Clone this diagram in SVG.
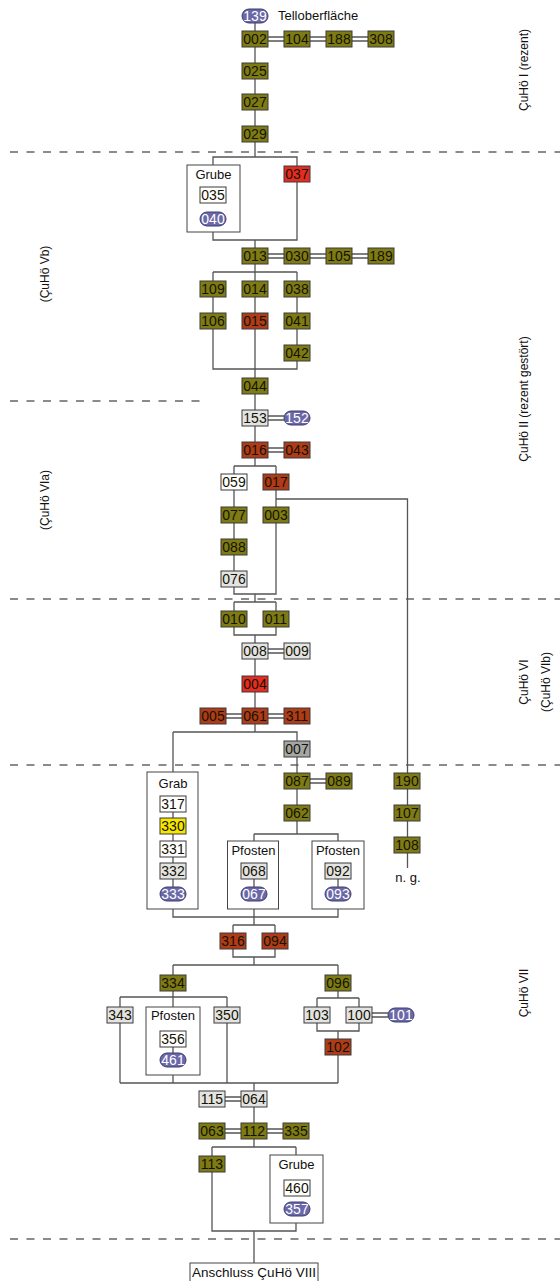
<svg xmlns="http://www.w3.org/2000/svg" width="560" height="1281" viewBox="0 0 560 1281">
<style>
.bg{fill:#fff}
.b{stroke:#3a3a3a;stroke-width:1}
.o{fill:#7f7b14}
.r{fill:#e62b20}
.rb{fill:#b03b18}
.lg{fill:#e3e3e3}
.w{fill:#fff}
.g{fill:#a6a6a6}
.y{fill:#f6e600}
.e{fill:#6b68a8;stroke:#3e3c70;stroke-width:1}
.t{font-family:"Liberation Sans",Arial,sans-serif;font-size:14px;text-anchor:middle;fill:#141400}
.te{font-family:"Liberation Sans",Arial,sans-serif;font-size:14px;text-anchor:middle;fill:#fff}
.lb{font-family:"Liberation Sans",Arial,sans-serif;font-size:13px;text-anchor:middle;fill:#111}
.ph{font-family:"Liberation Sans",Arial,sans-serif;font-size:12px;text-anchor:middle;fill:#111}
.c{fill:#fff;stroke:#444;stroke-width:1}
.ln{fill:none;stroke:#555;stroke-width:1.3}
.dl{fill:none;stroke:#666;stroke-width:1.3;stroke-dasharray:8 8.5}
</style>
<rect class="bg" x="0" y="0" width="560" height="1281"/>
<g id="phases">
<path class="dl" d="M10 152H560M10 401H205M10 599H560M10 765H560M10 1239H560"/>
<text class="ph" transform="translate(528,70) rotate(-90)">ÇuHö I (rezent)</text>
<text class="ph" transform="translate(528,399) rotate(-90)">ÇuHö II (rezent gestört)</text>
<text class="ph" transform="translate(528,682) rotate(-90)">ÇuHö VI</text>
<text class="ph" transform="translate(550,682) rotate(-90)">(ÇuHö VIb)</text>
<text class="ph" transform="translate(528,993) rotate(-90)">ÇuHö VII</text>
<text class="ph" transform="translate(49,274) rotate(-90)">(ÇuHö Vb)</text>
<text class="ph" transform="translate(49,500) rotate(-90)">(ÇuHö VIa)</text>
</g>
<g id="containers">
<g id="grube1"><rect class="c" x="187" y="165" width="53" height="67"/><text class="lb" x="213.5" y="179">Grube</text></g>
<g id="grab"><rect class="c" x="147" y="772" width="51" height="137"/><text class="lb" x="173" y="788">Grab</text></g>
<g id="pfosten1"><rect class="c" x="227.5" y="841" width="51" height="68"/><text class="lb" x="253.5" y="855">Pfosten</text></g>
<g id="pfosten2"><rect class="c" x="312" y="841" width="52" height="68"/><text class="lb" x="338" y="855">Pfosten</text></g>
<g id="pfosten3"><rect class="c" x="146" y="1007" width="54" height="68"/><text class="lb" x="173" y="1020">Pfosten</text></g>
<g id="grube2"><rect class="c" x="270" y="1155" width="53" height="68"/><text class="lb" x="296.5" y="1169">Grube</text></g>
</g>
<g id="connectors">
<path class="ln" d="M255 16V157M213 165V157H297V240H213V232M255 240V272M213 272H297M213 272V369H297V272M255 272V466"/>
<path class="ln" d="M234 466H276M234 466V594H276V466M255 594V602M234 602H276M234 602V635H276V602M255 635V732"/>
<path class="ln" d="M276 499H407.5V868"/>
<path class="ln" d="M173 732H297V834M173 732V772M173 804V894"/>
<path class="ln" d="M254 834H338V841M254 834V841M254 871V894M338 871V894"/>
<path class="ln" d="M173 909V917H338V909M254 909V925M233 925H275M233 925V957H275V925M254 957V965M173 965H338"/>
<path class="ln" d="M173 965V1007M120 997H227M120 997V1083M227 997V1083M173 1038V1060M173 1075V1083M120 1083H338"/>
<path class="ln" d="M338 965V998M317 998H359M317 998V1031H359V998M338 1031V1083"/>
<path class="ln" d="M254 1083V1147M212 1147H296M212 1147V1231H296V1223M296 1147V1155M254 1231V1263"/>
<path class="ln" d="M268 37H284M268 41H284M310 37H326M310 41H326M352 37H368M352 41H368"/>
<path class="ln" d="M268 254H284M268 258H284M310 254H326M310 258H326M352 254H368M352 258H368"/>
<path class="ln" d="M268 416H284M268 420H284M268 448H284M268 452H284M268 649H284M268 653H284"/>
<path class="ln" d="M226 714H242M226 718H242M268 714H284M268 718H284M310 779H326M310 783H326"/>
<path class="ln" d="M372 1013H388M372 1017H388M225 1097H241M225 1101H241M225 1129H241M225 1133H241M267 1129H283M267 1133H283"/>
</g>
<g id="n139"><rect class="e" x="242" y="9" width="26" height="14" rx="7"/><text class="te" x="255" y="21">139</text></g>
<text class="lb" x="278" y="20" style="text-anchor:start">Telloberfläche</text>
<g id="n002"><rect class="b o" x="242" y="31" width="26" height="16"/><text class="t" x="255" y="44">002</text></g>
<g id="n104"><rect class="b o" x="284" y="31" width="26" height="16"/><text class="t" x="297" y="44">104</text></g>
<g id="n188"><rect class="b o" x="326" y="31" width="26" height="16"/><text class="t" x="339" y="44">188</text></g>
<g id="n308"><rect class="b o" x="368" y="31" width="26" height="16"/><text class="t" x="381" y="44">308</text></g>
<g id="n025"><rect class="b o" x="242" y="63" width="26" height="16"/><text class="t" x="255" y="76">025</text></g>
<g id="n027"><rect class="b o" x="242" y="94" width="26" height="16"/><text class="t" x="255" y="107">027</text></g>
<g id="n029"><rect class="b o" x="242" y="126" width="26" height="16"/><text class="t" x="255" y="139">029</text></g>
<g id="n035"><rect class="b w" x="200" y="187" width="26" height="16"/><text class="t" x="213" y="200">035</text></g>
<g id="n040"><rect class="e" x="200" y="212" width="26" height="14" rx="7"/><text class="te" x="213" y="224">040</text></g>
<g id="n037"><rect class="b r" x="284" y="166" width="26" height="16"/><text class="t" x="297" y="179">037</text></g>
<g id="n013"><rect class="b o" x="242" y="248" width="26" height="16"/><text class="t" x="255" y="261">013</text></g>
<g id="n030"><rect class="b o" x="284" y="248" width="26" height="16"/><text class="t" x="297" y="261">030</text></g>
<g id="n105"><rect class="b o" x="326" y="248" width="26" height="16"/><text class="t" x="339" y="261">105</text></g>
<g id="n189"><rect class="b o" x="368" y="248" width="26" height="16"/><text class="t" x="381" y="261">189</text></g>
<g id="n109"><rect class="b o" x="200" y="281" width="26" height="16"/><text class="t" x="213" y="294">109</text></g>
<g id="n014"><rect class="b o" x="242" y="281" width="26" height="16"/><text class="t" x="255" y="294">014</text></g>
<g id="n038"><rect class="b o" x="284" y="281" width="26" height="16"/><text class="t" x="297" y="294">038</text></g>
<g id="n106"><rect class="b o" x="200" y="313" width="26" height="16"/><text class="t" x="213" y="326">106</text></g>
<g id="n015"><rect class="b rb" x="242" y="313" width="26" height="16"/><text class="t" x="255" y="326">015</text></g>
<g id="n041"><rect class="b o" x="284" y="313" width="26" height="16"/><text class="t" x="297" y="326">041</text></g>
<g id="n042"><rect class="b o" x="284" y="345" width="26" height="16"/><text class="t" x="297" y="358">042</text></g>
<g id="n044"><rect class="b o" x="242" y="378" width="26" height="16"/><text class="t" x="255" y="391">044</text></g>
<g id="n153"><rect class="b lg" x="242" y="410" width="26" height="16"/><text class="t" x="255" y="423">153</text></g>
<g id="n152"><rect class="e" x="284" y="411" width="26" height="14" rx="7"/><text class="te" x="297" y="423">152</text></g>
<g id="n016"><rect class="b rb" x="242" y="442" width="26" height="16"/><text class="t" x="255" y="455">016</text></g>
<g id="n043"><rect class="b rb" x="284" y="442" width="26" height="16"/><text class="t" x="297" y="455">043</text></g>
<g id="n059"><rect class="b w" x="221" y="474" width="26" height="16"/><text class="t" x="234" y="487">059</text></g>
<g id="n017"><rect class="b rb" x="263" y="474" width="26" height="16"/><text class="t" x="276" y="487">017</text></g>
<g id="n077"><rect class="b o" x="221" y="507" width="26" height="16"/><text class="t" x="234" y="520">077</text></g>
<g id="n003"><rect class="b o" x="263" y="507" width="26" height="16"/><text class="t" x="276" y="520">003</text></g>
<g id="n088"><rect class="b o" x="221" y="539" width="26" height="16"/><text class="t" x="234" y="552">088</text></g>
<g id="n076"><rect class="b lg" x="221" y="571" width="26" height="16"/><text class="t" x="234" y="584">076</text></g>
<g id="n010"><rect class="b o" x="221" y="611" width="26" height="16"/><text class="t" x="234" y="624">010</text></g>
<g id="n011"><rect class="b o" x="263" y="611" width="26" height="16"/><text class="t" x="276" y="624">011</text></g>
<g id="n008"><rect class="b lg" x="242" y="643" width="26" height="16"/><text class="t" x="255" y="656">008</text></g>
<g id="n009"><rect class="b lg" x="284" y="643" width="26" height="16"/><text class="t" x="297" y="656">009</text></g>
<g id="n004"><rect class="b r" x="242" y="676" width="26" height="16"/><text class="t" x="255" y="689">004</text></g>
<g id="n005"><rect class="b rb" x="200" y="708" width="26" height="16"/><text class="t" x="213" y="721">005</text></g>
<g id="n061"><rect class="b rb" x="242" y="708" width="26" height="16"/><text class="t" x="255" y="721">061</text></g>
<g id="n311"><rect class="b rb" x="284" y="708" width="26" height="16"/><text class="t" x="297" y="721">311</text></g>
<g id="n007"><rect class="b g" x="284" y="741" width="26" height="16"/><text class="t" x="297" y="754">007</text></g>
<g id="n317"><rect class="b w" x="160" y="796" width="26" height="16"/><text class="t" x="173" y="809">317</text></g>
<g id="n330"><rect class="b y" x="160" y="818" width="26" height="16"/><text class="t" x="173" y="831">330</text></g>
<g id="n331"><rect class="b w" x="160" y="841" width="26" height="16"/><text class="t" x="173" y="854">331</text></g>
<g id="n332"><rect class="b lg" x="160" y="863" width="26" height="16"/><text class="t" x="173" y="876">332</text></g>
<g id="n333"><rect class="e" x="160" y="887" width="26" height="14" rx="7"/><text class="te" x="173" y="899">333</text></g>
<g id="n087"><rect class="b o" x="284" y="773" width="26" height="16"/><text class="t" x="297" y="786">087</text></g>
<g id="n089"><rect class="b o" x="326" y="773" width="26" height="16"/><text class="t" x="339" y="786">089</text></g>
<g id="n062"><rect class="b o" x="284" y="805" width="26" height="16"/><text class="t" x="297" y="818">062</text></g>
<g id="n068"><rect class="b lg" x="241" y="863" width="26" height="16"/><text class="t" x="254" y="876">068</text></g>
<g id="n067"><rect class="e" x="241" y="887" width="26" height="14" rx="7"/><text class="te" x="254" y="899">067</text></g>
<g id="n092"><rect class="b lg" x="325" y="863" width="26" height="16"/><text class="t" x="338" y="876">092</text></g>
<g id="n093"><rect class="e" x="325" y="887" width="26" height="14" rx="7"/><text class="te" x="338" y="899">093</text></g>
<g id="n190"><rect class="b o" x="394" y="773" width="26" height="16"/><text class="t" x="407" y="786">190</text></g>
<g id="n107"><rect class="b o" x="394" y="805" width="26" height="16"/><text class="t" x="407" y="818">107</text></g>
<g id="n108"><rect class="b o" x="394" y="837" width="26" height="16"/><text class="t" x="407" y="850">108</text></g>
<text class="lb" x="408" y="882">n. g.</text>
<g id="n316"><rect class="b rb" x="220" y="933" width="26" height="16"/><text class="t" x="233" y="946">316</text></g>
<g id="n094"><rect class="b rb" x="262" y="933" width="26" height="16"/><text class="t" x="275" y="946">094</text></g>
<g id="n334"><rect class="b o" x="160" y="975" width="26" height="16"/><text class="t" x="173" y="988">334</text></g>
<g id="n096"><rect class="b o" x="325" y="975" width="26" height="16"/><text class="t" x="338" y="988">096</text></g>
<g id="n343"><rect class="b lg" x="107" y="1007" width="26" height="16"/><text class="t" x="120" y="1020">343</text></g>
<g id="n350"><rect class="b lg" x="214" y="1007" width="26" height="16"/><text class="t" x="227" y="1020">350</text></g>
<g id="n356"><rect class="b w" x="160" y="1031" width="26" height="16"/><text class="t" x="173" y="1044">356</text></g>
<g id="n461"><rect class="e" x="160" y="1053" width="26" height="14" rx="7"/><text class="te" x="173" y="1065">461</text></g>
<g id="n103"><rect class="b lg" x="304" y="1007" width="26" height="16"/><text class="t" x="317" y="1020">103</text></g>
<g id="n100"><rect class="b lg" x="346" y="1007" width="26" height="16"/><text class="t" x="359" y="1020">100</text></g>
<g id="n101"><rect class="e" x="388" y="1008" width="26" height="14" rx="7"/><text class="te" x="401" y="1020">101</text></g>
<g id="n102"><rect class="b rb" x="325" y="1039" width="26" height="16"/><text class="t" x="338" y="1052">102</text></g>
<g id="n115"><rect class="b lg" x="199" y="1091" width="26" height="16"/><text class="t" x="212" y="1104">115</text></g>
<g id="n064"><rect class="b lg" x="241" y="1091" width="26" height="16"/><text class="t" x="254" y="1104">064</text></g>
<g id="n063"><rect class="b o" x="199" y="1123" width="26" height="16"/><text class="t" x="212" y="1136">063</text></g>
<g id="n112"><rect class="b o" x="241" y="1123" width="26" height="16"/><text class="t" x="254" y="1136">112</text></g>
<g id="n335"><rect class="b o" x="283" y="1123" width="26" height="16"/><text class="t" x="296" y="1136">335</text></g>
<g id="n113"><rect class="b o" x="199" y="1156" width="26" height="16"/><text class="t" x="212" y="1169">113</text></g>
<g id="n460"><rect class="b w" x="284" y="1180" width="26" height="16"/><text class="t" x="297" y="1193">460</text></g>
<g id="n357"><rect class="e" x="284" y="1202" width="26" height="14" rx="7"/><text class="te" x="297" y="1214">357</text></g>
<g id="anschluss"><rect class="c" x="190" y="1263" width="128" height="22"/><text class="lb" x="254" y="1277" style="font-size:13.5px">Anschluss ÇuHö VIII</text></g>
</svg>
